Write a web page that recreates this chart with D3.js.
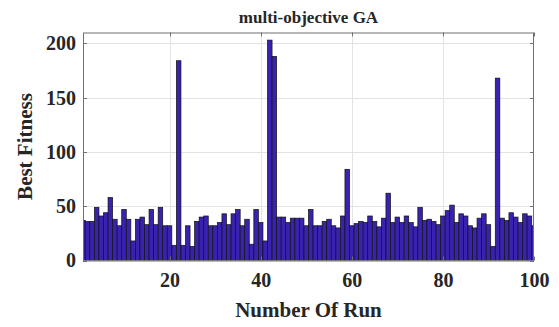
<!DOCTYPE html>
<html>
<head>
<meta charset="utf-8">
<script src="https://cdn.jsdelivr.net/npm/d3@7"></script>
<style>
  body { margin: 0; background: #fff; }
  text { font-family: "Liberation Serif", "Times New Roman", serif; font-weight: bold; fill: #262626; }
</style>
</head>
<body>
<script>
// chart data
const runs = d3.range(1, 101);
const fitness = [
  37, 36, 36, 49, 41, 44, 58, 38, 32, 47,
  38, 18, 38, 40, 33, 47, 33, 49, 32, 32,
  14, 184, 14, 32, 13, 36, 40, 41, 32, 32,
  35, 43, 33, 43, 47, 32, 38, 15, 47, 35,
  18, 203, 188, 40, 40, 35, 39, 39, 39, 32,
  47, 32, 32, 36, 38, 32, 30, 41, 84, 32,
  34, 36, 35, 41, 36, 31, 39, 62, 35, 40,
  35, 41, 35, 31, 49, 37, 38, 36, 33, 41,
  46, 51, 35, 43, 41, 32, 30, 39, 43, 33,
  13, 168, 39, 37, 44, 40, 35, 43, 41, 32
];
const xTicks = [20, 40, 60, 80, 100];
const yTicks = [0, 50, 100, 150, 200];

// layout
const width = 559, height = 327;
const plotL = 83, plotR = 534, plotT = 32.5, plotB = 260.5;

const svg = d3.select("body").append("svg")
  .attr("width", width)
  .attr("height", height);

const x = d3.scaleLinear().domain([1, 100]).range([plotL, plotR]);
const y = d3.scaleLinear().domain([0, 210]).range([plotB, plotT]);

svg.append("clipPath").attr("id", "plot")
  .append("rect")
  .attr("x", plotL).attr("y", plotT)
  .attr("width", plotR - plotL).attr("height", plotB - plotT);

// grid lines
const grid = svg.append("g").attr("stroke", "#e3e3e3").attr("stroke-width", 1);
grid.selectAll(".gx").data(xTicks.filter(d => d < 100)).join("line")
  .attr("x1", d => Math.round(x(d)) + 0.5).attr("x2", d => Math.round(x(d)) + 0.5)
  .attr("y1", plotT).attr("y2", plotB);
grid.selectAll(".gy").data(yTicks.filter(d => d > 0)).join("line")
  .attr("x1", plotL).attr("x2", plotR)
  .attr("y1", d => Math.round(y(d)) + 0.5).attr("y2", d => Math.round(y(d)) + 0.5);

// bars
const bw = x(2) - x(1);
svg.append("g")
  .attr("clip-path", "url(#plot)")
  .selectAll("rect")
  .data(runs)
  .join("rect")
  .attr("x", (d) => x(d) - bw / 2)
  .attr("width", bw)
  .attr("y", (d, i) => y(fitness[i]))
  .attr("height", (d, i) => y(0) - y(fitness[i]))
  .attr("fill", "#3a22b0")
  .attr("stroke", "#111")
  .attr("stroke-width", 0.7);

// axes
const xAxis = svg.append("g")
  .attr("transform", `translate(0,${plotB})`)
  .call(d3.axisBottom(x).tickValues(xTicks).tickSize(0).tickPadding(12));
const yAxis = svg.append("g")
  .attr("transform", `translate(${plotL},0)`)
  .call(d3.axisLeft(y).tickValues(yTicks).tickSize(0).tickPadding(7));
[xAxis, yAxis].forEach(g => {
  g.select(".domain").remove();
  g.selectAll("text").attr("font-size", 20).attr("font-family", null).attr("fill", "#262626");
});

// box and inner ticks
const box = svg.append("g").attr("stroke", "#707070").attr("stroke-width", 1).attr("fill", "none");
box.append("rect")
  .attr("x", plotL + 0.5).attr("y", plotT + 0.5)
  .attr("width", plotR - plotL - 1).attr("height", plotB - plotT);
box.selectAll(".tx").data(xTicks).join("path")
  .attr("d", d => `M${Math.round(x(d)) + 0.5},${plotT}v4M${Math.round(x(d)) + 0.5},${plotB}v-4`);
box.selectAll(".ty").data(yTicks).join("path")
  .attr("d", d => `M${plotL},${Math.round(y(d)) + 0.5}h4M${plotR},${Math.round(y(d)) + 0.5}h-4`);

// titles
svg.append("text")
  .attr("x", (plotL + plotR) / 2).attr("y", 23)
  .attr("text-anchor", "middle")
  .attr("font-size", 17)
  .attr("fill", "#000")
  .text("multi-objective GA");

svg.append("text")
  .attr("x", (plotL + plotR) / 2).attr("y", 317)
  .attr("text-anchor", "middle")
  .attr("font-size", 21)
  .text("Number Of Run");

svg.append("text")
  .attr("transform", `translate(32,${(plotT + plotB) / 2}) rotate(-90)`)
  .attr("text-anchor", "middle")
  .attr("font-size", 21)
  .text("Best Fitness");
</script>
</body>
</html>
